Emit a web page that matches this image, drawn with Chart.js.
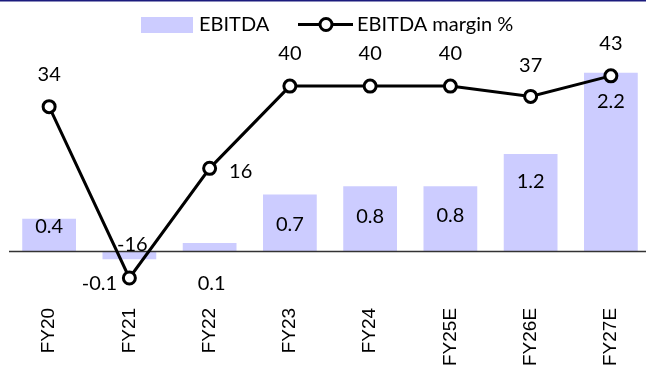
<!DOCTYPE html>
<html>
<head>
<meta charset="utf-8">
<script src="https://cdn.jsdelivr.net/npm/chart.js@4/dist/chart.umd.min.js"></script>
<style>
  html, body { margin: 0; padding: 0; background: #fff; width: 646px; height: 376px; overflow: hidden; }
  #wrap { position: relative; width: 660px; height: 394px; }
</style>
</head>
<body>
<div id="wrap"><canvas id="c" width="660" height="394"></canvas></div>
<script>
// Fiscal years (E = estimate)
const categories = ['FY20', 'FY21', 'FY22', 'FY23', 'FY24', 'FY25E', 'FY26E', 'FY27E'];
// EBITDA (bars, left axis)
const ebitda = [0.4, -0.1, 0.1, 0.7, 0.8, 0.8, 1.2, 2.2];
// EBITDA margin in % (line, right axis)
const ebitdaMargin = [34, -16, 16, 40, 40, 40, 37, 43];
const seriesNames = ['EBITDA', 'EBITDA margin %'];

// Value ranges of the two (hidden) vertical axes
const ebitdaRange = [-0.4526, 2.6055];
const marginRange = [-18.9, 53.46];

const BAR_COLOR = '#ccccff';
const LABEL_FONT = '20px Lato, "Open Sans", sans-serif';

// Label placement: [dx, dy] from the bar top (or the zero line for negative bars)
const barLabelShift = [[0, 8], [-30, 32], [2, 40], [0, 30], [0, 30], [0, 29], [0, 28], [0, 29]];
// Label placement: [dx, dy] from each margin point
const marginLabelShift = [[0, -32], [3, -33], [31, 3], [0, -33], [0, -33], [0, -33], [0, -31], [0, -32]];

const decorations = {
  id: 'decorations',
  afterDatasetDraw(chart, args) {
    // zero line of the EBITDA axis, drawn over the bars and under the margin line
    if (chart.data.datasets[args.index].type !== 'bar') return;
    const ctx = chart.ctx;
    const y0 = Math.round(chart.scales.y.getPixelForValue(0)) + 0.5;
    ctx.save();
    ctx.strokeStyle = '#333333';
    ctx.lineWidth = 1.5;
    ctx.beginPath();
    ctx.moveTo(chart.chartArea.left, y0);
    ctx.lineTo(chart.width, y0);
    ctx.stroke();
    ctx.restore();
  },
  afterDraw(chart) {
    const ctx = chart.ctx;
    ctx.save();
    // thin rule across the top
    ctx.fillStyle = '#1b1b7d';
    ctx.fillRect(0, 0, chart.width, 1.5);

    ctx.font = LABEL_FONT;
    ctx.fillStyle = '#000';
    ctx.textAlign = 'center';
    ctx.textBaseline = 'middle';

    // EBITDA values
    const yBar = chart.scales.y;
    const barMeta = chart.getDatasetMeta(1);
    barMeta.data.forEach((el, i) => {
      const v = ebitda[i];
      const base = yBar.getPixelForValue(Math.max(v, 0));
      const [dx, dy] = barLabelShift[i];
      ctx.fillText(v.toFixed(1), el.x + dx, base + dy);
    });

    // margin values
    const lineMeta = chart.getDatasetMeta(0);
    lineMeta.data.forEach((el, i) => {
      const [dx, dy] = marginLabelShift[i];
      ctx.fillText(String(ebitdaMargin[i]), el.x + dx, el.y + dy);
    });

    // legend
    const ly = 25;
    ctx.fillStyle = BAR_COLOR;
    ctx.fillRect(141, ly - 8, 52, 16);
    ctx.fillStyle = '#000';
    ctx.textAlign = 'left';
    ctx.fillText(seriesNames[0], 199, ly);

    ctx.strokeStyle = '#000';
    ctx.lineWidth = 3;
    ctx.beginPath();
    ctx.moveTo(298, ly - 0.5);
    ctx.lineTo(353, ly - 0.5);
    ctx.stroke();
    ctx.beginPath();
    ctx.arc(326, ly - 0.5, 6, 0, Math.PI * 2);
    ctx.fillStyle = '#fff';
    ctx.fill();
    ctx.stroke();
    ctx.fillStyle = '#000';
    ctx.fillText(seriesNames[1], 357, ly);
    ctx.restore();
  }
};

new Chart(document.getElementById('c'), {
  data: {
    labels: categories,
    datasets: [
      {
        type: 'line',
        label: seriesNames[1],
        data: ebitdaMargin,
        yAxisID: 'y1',
        order: 0,
        borderColor: '#000',
        borderWidth: 3,
        tension: 0,
        pointRadius: 6,
        pointBorderWidth: 3,
        pointBackgroundColor: '#fff',
        pointBorderColor: '#000',
        clip: false
      },
      {
        type: 'bar',
        label: seriesNames[0],
        data: ebitda,
        yAxisID: 'y',
        order: 1,
        backgroundColor: BAR_COLOR,
        borderWidth: 0,
        barPercentage: 0.67,
        categoryPercentage: 1
      }
    ]
  },
  options: {
    responsive: false,
    animation: false,
    devicePixelRatio: 1,
    layout: { padding: { left: 8.64, right: 5.6, top: 40, bottom: 8 } },
    plugins: { legend: { display: false }, tooltip: { enabled: false } },
    scales: {
      x: {
        offset: true,
        grid: { display: false, drawTicks: false },
        border: { display: false },
        ticks: {
          autoSkip: false,
          minRotation: 90,
          maxRotation: 90,
          padding: 20,
          color: '#000',
          font: { family: '"Liberation Sans", Arial, sans-serif', size: 19 }
        }
      },
      y: { display: false, min: ebitdaRange[0], max: ebitdaRange[1] },
      y1: { display: false, min: marginRange[0], max: marginRange[1] }
    }
  },
  plugins: [decorations]
});
</script>
</body>
</html>
